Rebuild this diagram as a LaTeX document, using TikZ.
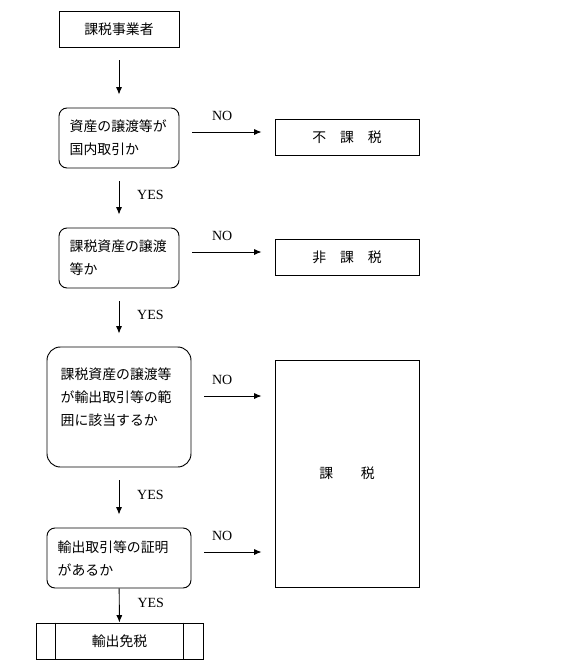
\documentclass[tikz,border=0pt]{standalone}
\usepackage{fontspec}
\setmainfont{Liberation Serif}
\newfontfamily\jpfont{Noto Sans CJK JP}
\usetikzlibrary{arrows.meta}

\tikzset{
  plain/.style={shape=rectangle,draw=black,inner sep=0pt,
    font=\fontsize{10.4pt}{17.25pt}\jpfont},
  query/.style={plain,rounded corners=6pt,align=left,inner xsep=8pt},
  yesno/.style={font=\fontsize{10.5pt}{12pt}\selectfont},
  spaced/.style={shorten <=9.75pt,shorten >=9.75pt},
  >={Latex[length=5.5pt,width=4.5pt]}
}

\begin{document}
\begin{tikzpicture}[x=0.75pt,y=-0.75pt,line width=0.7pt]
  \useasboundingbox (0,0) rectangle (564,672);

  \node[plain,minimum width=90pt,minimum height=27pt] (start) at (119,29) {課税事業者};
  \node[query,minimum width=90pt,minimum height=45pt,text width=74pt] (q1) at (119,138) {資産の譲渡等が\\国内取引か};
  \node[plain,minimum width=108pt,minimum height=27pt] (fukazei) at (347,137) {不　課　税};
  \node[query,minimum width=90pt,minimum height=45pt,text width=74pt] (q2) at (119,258) {課税資産の譲渡\\等か};
  \node[plain,minimum width=108pt,minimum height=27pt] (hikazei) at (347,257) {非　課　税};
  \node[plain,rounded corners=10pt,minimum width=108pt,minimum height=90pt] (q3) at (119,407) {};
  \node[font=\fontsize{10.4pt}{17.25pt}\jpfont,align=left,text width=86pt,inner sep=0pt] (q3text) at (118,397) {課税資産の譲渡等\\が輸出取引等の範\\囲に該当するか};
  \node[plain,minimum width=108pt,minimum height=170.25pt] (kazei) at (347,473.5) {課　　税};
  \node[query,minimum width=108pt,minimum height=45pt,text width=92pt] (q4) at (119,558) {輸出取引等の証明\\があるか};
  \node[plain,minimum width=125.25pt,minimum height=27pt] (exempt) at (119.5,641) {輸出免税};
  \draw ([xshift=15pt]exempt.north west) -- ([xshift=15pt]exempt.south west);
  \draw ([xshift=-15pt]exempt.north east) -- ([xshift=-15pt]exempt.south east);

  \draw[->,spaced] (start) to (q1);
  \draw[->,spaced] (q1) to node [yesno,right=10pt,yshift=2pt] {YES} (q2);
  \draw[->,spaced] (q2) to node [yesno,right=10pt,yshift=2pt] {YES} (q3);
  \draw[->,spaced] (q3) to node [yesno,right=10pt,yshift=2pt] {YES} (q4);
  \draw[->] (q4) to node [yesno,right=10pt,yshift=2pt] {YES} (exempt);

  \draw[->,spaced] ([yshift=4.5pt]q1.east) to node [yesno,above=5pt,pos=0.45] {NO} ([yshift=4.5pt]q1.east -| fukazei.west);
  \draw[->,spaced] ([yshift=4.5pt]q2.east) to node [yesno,above=5pt,pos=0.45] {NO} ([yshift=4.5pt]q2.east -| hikazei.west);
  \draw[->,spaced] ([yshift=8.25pt]q3.east) to node [yesno,above=5pt,pos=0.37] {NO} ([yshift=8.25pt]q3.east -| kazei.west);
  \draw[->,spaced] ([yshift=4.5pt]q4.east) to node [yesno,above=5pt,pos=0.37] {NO} ([yshift=4.5pt]q4.east -| kazei.west);
\end{tikzpicture}
\end{document}
